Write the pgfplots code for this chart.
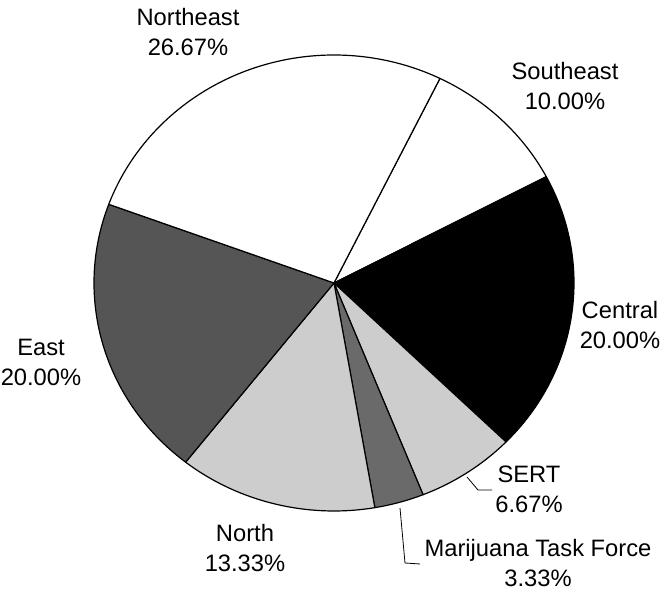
\documentclass[border=0pt]{standalone}
\usepackage{pgfplots}
\pgfplotsset{compat=1.18}
\usepackage{pgfplotstable}
\usepackage{fontspec}
\setmainfont{Liberation Sans}
\definecolor{lightfill}{HTML}{CDCDCD}
\definecolor{darkfill}{HTML}{6A6A6A}
\definecolor{eastfill}{HTML}{555555}

\pgfplotstableread{
label value
Southeast 10.00
Central 20.00
SERT 6.67
Marijuana 3.33
North 13.33
East 20.00
Northeast 26.67
}\piedata

\begin{document}
\begin{tikzpicture}
\begin{axis}[
  scale only axis,
  width=496.5pt, height=443.25pt,
  xmin=0, xmax=662, ymin=0, ymax=591,
  hide axis,
  clip=false,
]
\path (axis cs:0,0) rectangle (axis cs:662,591);
\pgfplotsextra{
  \xdef\cur{63.8}
  \foreach \i/\col in {0/white,1/black,2/lightfill,3/darkfill,4/lightfill,5/eastfill,6/white} {
    \pgfplotstablegetelem{\i}{value}\of\piedata
    \pgfmathsetmacro{\sweep}{3.6*\pgfplotsretval}
    \pgfmathsetmacro{\nxt}{\cur-\sweep}
    \filldraw[fill=\col, draw=black, line width=0.9pt, line join=round]
      (axis cs:334,308) -- ++(\cur:180pt and 171pt)
      arc[start angle=\cur, end angle=\nxt, x radius=180pt, y radius=171pt] -- cycle;
    \xdef\cur{\nxt}
  }
}
% leader lines
\draw[line width=0.6pt] (axis cs:467,114) -- (axis cs:478,101) -- (axis cs:492,101);
\draw[line width=0.6pt] (axis cs:400,83) -- (axis cs:405,28) -- (axis cs:420,27);
% labels
\tikzset{lbl/.style={align=center, font=\fontsize{17.8}{22.5}\selectfont, inner sep=0pt}}
\node[lbl] at (axis cs:188,559) {Northeast\\26.67\%};
\node[lbl] at (axis cs:565,505) {Southeast\\10.00\%};
\node[lbl] at (axis cs:620,266) {Central\\20.00\%};
\node[lbl] at (axis cs:41,229) {East\\20.00\%};
\node[lbl] at (axis cs:245,43) {North\\13.33\%};
\node[lbl] at (axis cs:529,102) {SERT\\6.67\%};
\node[lbl] at (axis cs:538,28) {Marijuana Task Force\\3.33\%};
\end{axis}
\end{tikzpicture}
\end{document}
